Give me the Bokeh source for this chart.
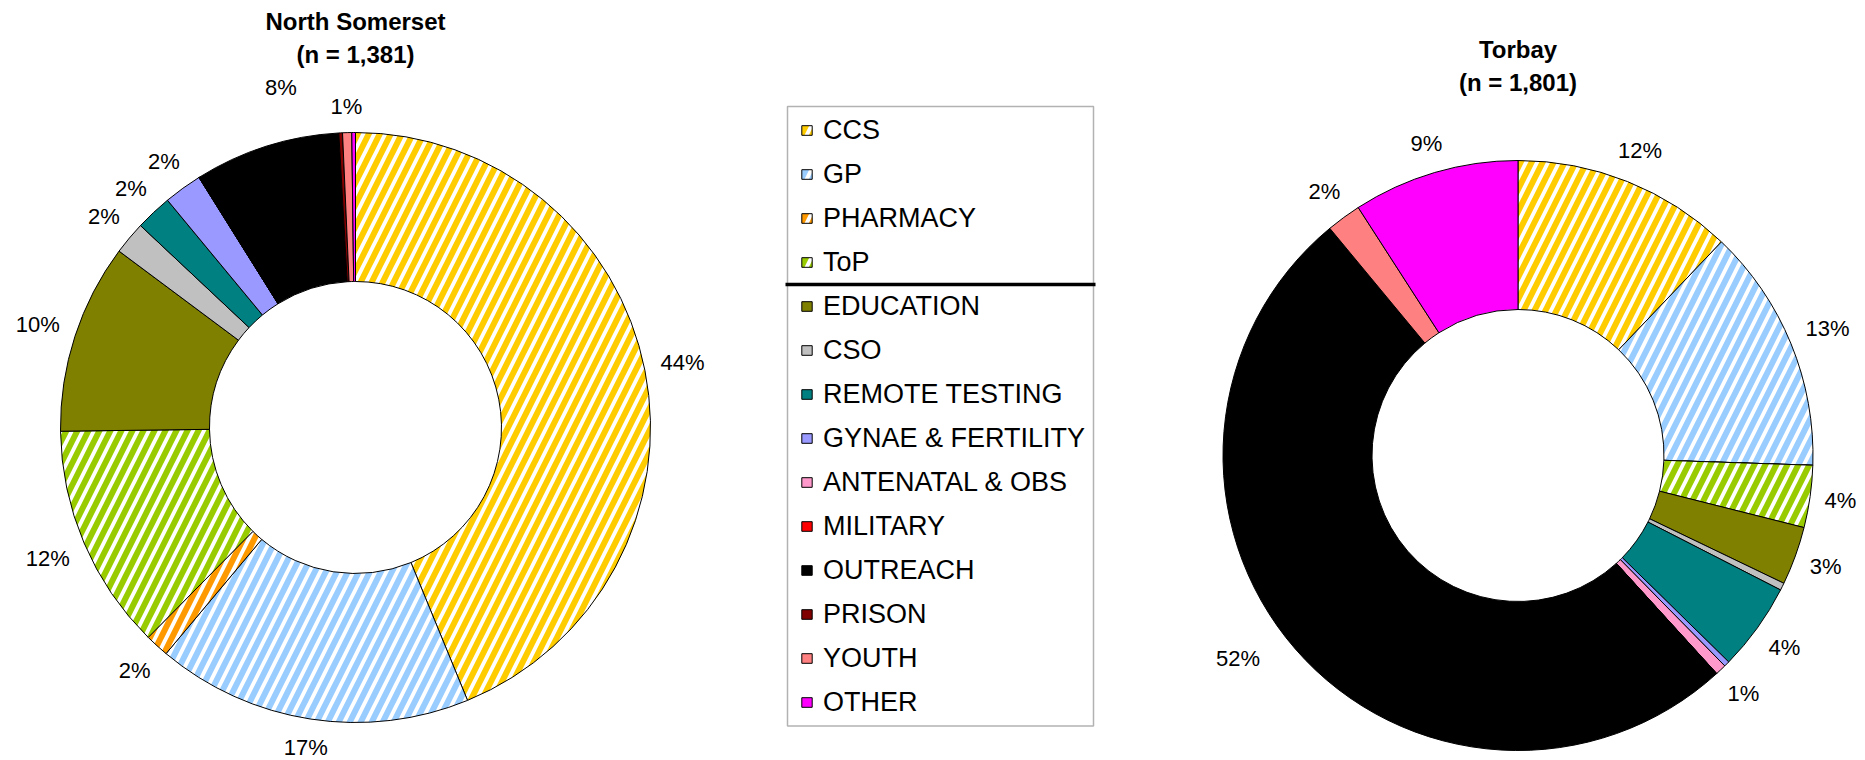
import numpy as np
from bokeh.plotting import figure
from bokeh.models import ColumnDataSource, Range1d, Legend, LegendItem, BoxAnnotation
from bokeh.core.properties import value
from bokeh.embed import file_html
from bokeh.resources import INLINE

# ---------------- data ----------------
categories = ["CCS", "GP", "PHARMACY", "ToP", "EDUCATION", "CSO", "REMOTE TESTING",
              "GYNAE & FERTILITY", "ANTENATAL & OBS", "MILITARY", "OUTREACH",
              "PRISON", "YOUTH", "OTHER"]
north_somerset_pct = [43.8, 17.3, 1.3, 12.4, 10.4, 1.8, 2.0, 2.1, 0.0, 0.0, 8.0, 0.2, 0.5, 0.2]
north_somerset_labels = ["44%", "17%", "2%", "12%", "10%", "2%", "2%", "2%", "", "", "8%", "", "1%", ""]
torbay_pct = [12.1, 13.4, 0.0, 3.4, 3.2, 0.4, 4.8, 0.3, 0.6, 0.0, 50.7, 0.0, 1.9, 9.1]
torbay_labels = ["12%", "13%", "", "4%", "3%", "", "4%", "", "1%", "", "52%", "", "2%", "9%"]
chart_titles = ["North Somerset", "Torbay"]
chart_subtitles = ["(n = 1,381)", "(n = 1,801)"]

# ---------------- styles ----------------
colors = ["#FFCC00", "#99CCFF", "#FF9900", "#99CC00", "#808000", "#C0C0C0", "#008080",
          "#9999FF", "#FF99CC", "#FF0000", "#000000", "#800000", "#FF8080", "#FF00FF"]
hatched = [True, True, True, True] + [False] * 10
FONT = "Liberation Sans"

# ---------------- layout (page pixels, y measured downwards) ----------------
W, H = 1865, 760
R_OUT, R_IN = 295, 146
centers = [(355, 427), (1517.5, 455)]
# Excel moved a couple of labels away from their slice's mid angle
label_nudge = [{"OUTREACH": (24, -30)}, {"OUTREACH": (-28, -16)}]


def Y(y_page):
    return H - y_page


p = figure(width=W, height=H, x_range=Range1d(0, W), y_range=Range1d(0, H),
           output_backend="svg", toolbar_location=None, min_border=0,
           x_axis_location=None, y_axis_location=None, outline_line_color=None,
           background_fill_color="white", border_fill_color="white")
p.xgrid.visible = False
p.ygrid.visible = False

renderers = []
for k, ((cx, cy), pct, labels, title, sub) in enumerate(zip(
        centers, [north_somerset_pct, torbay_pct], [north_somerset_labels, torbay_labels],
        chart_titles, chart_subtitles)):
    v = np.array(pct, dtype=float)
    frac = v / v.sum()
    cum = np.concatenate([[0.0], np.cumsum(frac)])
    sweep = frac * 2 * np.pi
    sweep_draw = np.where(sweep > 0, sweep, 1e-3)   # empty slices -> hairline, not a full ring
    start = np.pi / 2 - cum[:-1] * 2 * np.pi
    end = start - sweep_draw
    src = ColumnDataSource(dict(
        start=start, end=end, cat=categories,
        fill=["white" if h else c for h, c in zip(hatched, colors)],
        hcolor=colors,
        hpat=["/" if h else " " for h in hatched],
    ))
    r = p.annular_wedge(x=cx, y=Y(cy), inner_radius=R_IN, outer_radius=R_OUT,
                        start_angle="start", end_angle="end", direction="clock",
                        fill_color="fill", hatch_color="hcolor", hatch_pattern="hpat",
                        hatch_scale=22, hatch_weight=6,
                        line_color="black", line_width=1, source=src)
    renderers.append(r)

    # percentage labels placed outside the ring at each slice's mid angle
    mid = (cum[:-1] + cum[1:]) / 2 * 2 * np.pi
    ux, uy = np.sin(mid), -np.cos(mid)
    lx, ly, lt = [], [], []
    for i, lab in enumerate(labels):
        if not lab:
            continue
        d = R_OUT + 14 + abs(ux[i]) * 7.5 * len(lab) + abs(uy[i]) * 12
        dx, dy = label_nudge[k].get(categories[i], (0, 0))
        lx.append(cx + d * ux[i] + dx)
        ly.append(Y(cy + d * uy[i] + dy))
        lt.append(lab)
    p.text(x=lx, y=ly, text=lt, text_align="center", text_baseline="middle",
           text_font=value(FONT), text_font_size="22px", text_color="black")

    # two-line bold title above each ring
    p.text(x=[cx, cx], y=[Y(cy - R_OUT - 111), Y(cy - R_OUT - 78)], text=[title, sub],
           text_align="center", text_baseline="middle", text_font=value(FONT),
           text_font_size="24px", text_font_style="bold", text_color="black")

# ---------------- legend ----------------
items = [LegendItem(label=c, renderers=[renderers[0]], index=i) for i, c in enumerate(categories)]
legend = Legend(items=items, location=(793, 35), padding=7, spacing=12,
                glyph_width=13, glyph_height=12, label_height=32, label_standoff=10,
                label_text_font=FONT, label_text_font_size="27px",
                label_text_color="black",
                border_line_alpha=0, background_fill_alpha=0, margin=0)
p.add_layout(legend)

box = BoxAnnotation(left=787, right=1093, top=Y(106), bottom=Y(725.5),
                    fill_color=None, line_color="black", line_width=1.5)
p.add_layout(box)
p.segment(x0=[785], x1=[1095], y0=[Y(284)], y1=[Y(284)], line_color="black", line_width=3.5)

open("out.html", "w").write(file_html(p, INLINE))
